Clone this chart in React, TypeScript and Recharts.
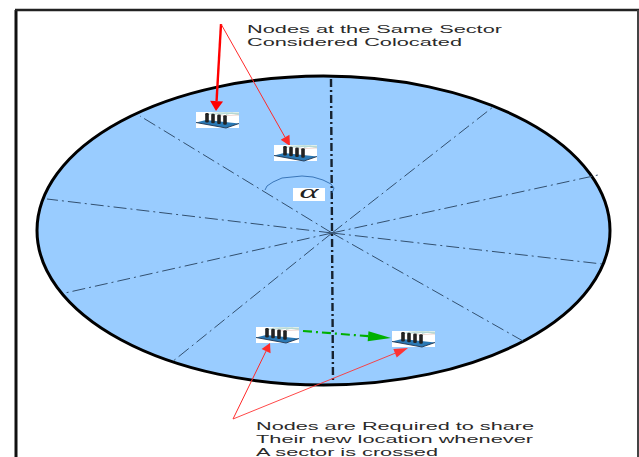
import { ScatterChart, Scatter, XAxis, YAxis, ReferenceArea, ReferenceLine } from 'recharts';

type Pt = { x: number; y: number };

const hub: Pt = { x: 332, y: 233 };
const spokeEnds: Pt[] = [
  { x: 140, y: 116 }, { x: 493, y: 107 }, { x: 598, y: 175 }, { x: 47, y: 199 },
  { x: 602, y: 264 }, { x: 65, y: 293 }, { x: 172, y: 362 }, { x: 523, y: 341 },
];
const axisLine: Pt[] = [{ x: 331, y: 79 }, { x: 333, y: 383 }];
const alphaArc: Pt[] = [
  { x: 265, y: 190 }, { x: 267, y: 186 }, { x: 273, y: 182 }, { x: 282, y: 178 }, { x: 292, y: 177 },
  { x: 302, y: 176 }, { x: 313, y: 177 }, { x: 323, y: 180 }, { x: 331, y: 184 }, { x: 334, y: 188 }, { x: 332, y: 193 },
];
const nodes: Pt[] = [{ x: 196, y: 112 }, { x: 274, y: 145 }, { x: 256, y: 327 }, { x: 392, y: 331 }];
const topApex: Pt = { x: 221, y: 24 };
const bottomApex: Pt = { x: 233, y: 419 };
const topTargets: Pt[] = [{ x: 216, y: 111 }, { x: 290, y: 146 }];
const bottomTargets: Pt[] = [{ x: 270, y: 343 }, { x: 408, y: 348 }];
const moveArrow: Pt[] = [{ x: 303, y: 331 }, { x: 391, y: 338 }];
const captions = [
  'Nodes at the Same Sector', 'Considered Colocated',
  'Nodes are Required to share', 'Their new location whenever', 'A sector is crossed',
];
const captionAt: Pt[] = [
  { x: 247, y: 33 }, { x: 247, y: 46 }, { x: 256, y: 430 }, { x: 256, y: 443 }, { x: 256, y: 456 },
];
const captionEnds = [502, 462, 534, 533, 438];
const W = 639;
const H = 457;

const Ellipse = (p: any) => (
  <ellipse
    cx={p.x + p.width / 2} cy={p.y + p.height / 2} rx={p.width / 2} ry={p.height / 2}
    fill="#99ccff" stroke="#000" strokeWidth={3}
  />
);

const arrow = (color: string, width: number, headLen: number, headW: number, dash?: string) => (p: any) => {
  const dx = p.x2 - p.x1;
  const dy = p.y2 - p.y1;
  const len = Math.hypot(dx, dy);
  const ux = dx / len;
  const uy = dy / len;
  const bx = p.x2 - ux * headLen;
  const by = p.y2 - uy * headLen;
  const pts = `${p.x2},${p.y2} ${bx - uy * headW},${by + ux * headW} ${bx + uy * headW},${by - ux * headW}`;
  return (
    <g>
      <line x1={p.x1} y1={p.y1} x2={bx} y2={by} stroke={color} strokeWidth={width} strokeDasharray={dash} />
      <polygon points={pts} fill={color} />
    </g>
  );
};

const NodeIcon = (p: any) => {
  const posts = [11, 17, 23, 29];
  return (
    <g transform={`translate(${p.cx},${p.cy})`}>
      <rect x={0} y={0} width={43} height={16} fill="#fff" />
      {posts.map((a) => (
        <path key={a} d={`M${a + 1},2.5 L${a + 7},1 L43,${1 + (a - 11) * 0.1}`} fill="none" stroke="#b5d8d2" strokeWidth={0.9} />
      ))}
      <path d="M22,4 L43,3" fill="none" stroke="#e8c9c0" strokeWidth={0.7} />
      <polygon points="0,10.5 10,8 43,11.5 30,16 " fill="#2b79b5" />
      <path d="M0,10.5 L30,16 L43,11.5" fill="none" stroke="#1c3350" strokeWidth={0.9} />
      {posts.map((a) => (
        <rect key={a} x={a - 1.8} y={1 + (a - 11) * 0.12} width={3.6} height={9.5} fill="#222" rx={1.2} />
      ))}
    </g>
  );
};

const Caption = (p: any) => (
  <text
    x={p.cx} y={p.cy} fontFamily="Liberation Sans" fontSize={11.4} fill="#2a2a2a"
    textLength={captionEnds[p.index] - captionAt[p.index].x} lengthAdjust="spacingAndGlyphs"
  >
    {captions[p.index]}
  </text>
);

const Alpha = (p: any) => (
  <g>
    <rect x={p.x} y={p.y} width={p.width} height={p.height} fill="#fff" />
    <text
      x={p.x + p.width / 2} y={p.y + p.height - 3} textAnchor="middle"
      fontFamily="Liberation Serif" fontStyle="italic" fontSize={19} fill="#222"
      textLength={19} lengthAdjust="spacingAndGlyphs"
    >
      α
    </text>
  </g>
);

const noDot = () => <g />;

export default function App() {
  return (
    <div style={{ position: 'absolute', left: 0, top: 0, width: W, height: H, background: '#fff' }}>
      <ScatterChart width={W} height={H} margin={{ top: 0, right: 0, bottom: 0, left: 0 }}>
        <XAxis type="number" dataKey="x" domain={[0, W]} hide allowDataOverflow />
        <YAxis type="number" dataKey="y" domain={[0, H]} reversed hide allowDataOverflow />

        <ReferenceArea x1={37} x2={610} y1={76} y2={385} shape={Ellipse} />

        <ReferenceLine segment={[{ x: 16, y: 10 }, { x: 16, y: H }]} stroke="#111" strokeWidth={3} />
        <ReferenceLine segment={[{ x: 15, y: 10 }, { x: W, y: 10 }]} stroke="#222" strokeWidth={2.5} />
        <ReferenceLine segment={[{ x: 638, y: 10 }, { x: 638, y: H }]} stroke="#444" strokeWidth={2} />

        {spokeEnds.map((e, i) => (
          <ReferenceLine key={i} segment={[hub, e]} stroke="#33506f" strokeWidth={1} strokeDasharray="13 4 2 4" />
        ))}
        <ReferenceLine segment={[axisLine[0], axisLine[1]]} stroke="#16212e" strokeWidth={2.4} strokeDasharray="8 3 2 3" />

        <Scatter data={alphaArc} line={{ stroke: '#2f6cb0', strokeWidth: 0.9 }} shape={noDot} isAnimationActive={false} />
        <ReferenceArea x1={293} x2={325} y1={188} y2={201} shape={Alpha} />

        <Scatter data={nodes} shape={NodeIcon} isAnimationActive={false} />

        <ReferenceLine segment={[topApex, topTargets[0]]} shape={arrow('#ff0000', 2.4, 10, 6.5)} />
        <ReferenceLine segment={[topApex, topTargets[1]]} shape={arrow('#ff2a2a', 1, 10, 5)} />
        <ReferenceLine segment={[bottomApex, bottomTargets[0]]} shape={arrow('#ff2a2a', 1, 9, 5)} />
        <ReferenceLine segment={[bottomApex, bottomTargets[1]]} shape={arrow('#ff3333', 0.9, 14, 4.5)} />
        <ReferenceLine segment={[moveArrow[0], moveArrow[1]]} shape={arrow('#00b000', 2.2, 23, 5, '9 4 2 4')} />

        <Scatter data={captionAt} shape={Caption} isAnimationActive={false} />
      </ScatterChart>
    </div>
  );
}
